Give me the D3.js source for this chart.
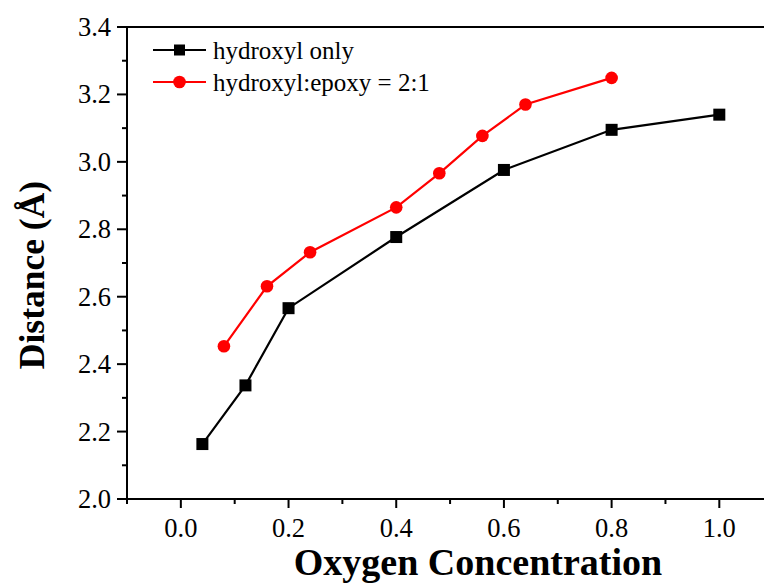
<!DOCTYPE html>
<html>
<head>
<meta charset="utf-8">
<script src="https://cdn.jsdelivr.net/npm/d3@7"></script>
<style>
  body { margin: 0; background: #fff; }
  svg { display: block; }
</style>
</head>
<body>
<svg width="764" height="586" font-family="Liberation Serif"></svg>
<script>
// data
const hydroxylX = [0.04, 0.12, 0.2, 0.4, 0.6, 0.8, 1.0]
const hydroxylY = [2.163, 2.337, 2.566, 2.777, 2.976, 3.095, 3.140]
const mixedX = [0.08, 0.16, 0.24, 0.4, 0.48, 0.56, 0.64, 0.8]
const mixedY = [2.453, 2.631, 2.732, 2.865, 2.966, 3.077, 3.170, 3.249]
const seriesNames = ['hydroxyl only', 'hydroxyl:epoxy = 2:1']
const xTicks = [0.0, 0.2, 0.4, 0.6, 0.8, 1.0]
const yTicks = [2.0, 2.2, 2.4, 2.6, 2.8, 3.0, 3.2, 3.4]
// minor ticks (odd tenths)
const xMinor = [-0.1, 0.1, 0.3, 0.5, 0.7, 0.9]
const yMinor = [2.1, 2.3, 2.5, 2.7, 2.9, 3.1, 3.3]

const svg = d3.select('svg')
const plotLeft = 127
const plotRight = 764
const plotTop = 27
const plotBottom = 499
const serif = "'Liberation Serif', 'Times New Roman', serif"

let x = d3.scaleLinear().domain([-0.1, 1.083]).range([plotLeft, plotRight])
let y = d3.scaleLinear().domain([2.0, 3.4]).range([plotBottom, plotTop])

let xAxis = svg.append('g').attr('transform', 'translate(0,' + plotBottom + ')')
xAxis.append('line').attr('x1', plotLeft).attr('x2', plotRight).attr('stroke', '#000').attr('stroke-width', 2)
xAxis.selectAll('.major').data(xTicks).enter().append('line')
  .attr('x1', d => x(d)).attr('x2', d => x(d)).attr('y1', 0).attr('y2', 9)
  .attr('stroke', '#000').attr('stroke-width', 2)
xAxis.selectAll('.minor').data(xMinor).enter().append('line')
  .attr('x1', d => x(d)).attr('x2', d => x(d)).attr('y1', 0).attr('y2', 5)
  .attr('stroke', '#000').attr('stroke-width', 2)
xAxis.selectAll('text').data(xTicks).enter().append('text')
  .attr('x', d => x(d)).attr('y', 38)
  .attr('text-anchor', 'middle').style('font-family', serif).style('font-size', '26.5px')
  .text(d => d3.format('.1f')(d))

let yAxis = svg.append('g').attr('transform', 'translate(' + plotLeft + ',0)')
yAxis.append('line').attr('y1', plotTop).attr('y2', plotBottom).attr('stroke', '#000').attr('stroke-width', 2)
yAxis.selectAll('.major').data(yTicks).enter().append('line')
  .attr('y1', d => y(d)).attr('y2', d => y(d)).attr('x1', 0).attr('x2', -10)
  .attr('stroke', '#000').attr('stroke-width', 2)
yAxis.selectAll('.minor').data(yMinor).enter().append('line')
  .attr('y1', d => y(d)).attr('y2', d => y(d)).attr('x1', 0).attr('x2', -5)
  .attr('stroke', '#000').attr('stroke-width', 2)
yAxis.selectAll('text').data(yTicks).enter().append('text')
  .attr('x', -16).attr('y', d => y(d) + 9)
  .attr('text-anchor', 'end').style('font-family', serif).style('font-size', '26.5px')
  .text(d => d3.format('.1f')(d))

// top frame line
svg.append('line').attr('x1', plotLeft - 10).attr('x2', plotRight).attr('y1', plotTop).attr('y2', plotTop)
  .attr('stroke', '#000').attr('stroke-width', 2)

// axis titles
svg.append('text').attr('x', 478).attr('y', 575).attr('text-anchor', 'middle')
  .style('font-family', serif).style('font-size', '38px').style('font-weight', 'bold').text('Oxygen Concentration')
svg.append('text').attr('transform', 'translate(44,275) rotate(-90)').attr('text-anchor', 'middle')
  .style('font-family', serif).style('font-size', '35.5px').style('font-weight', 'bold').text('Distance (Å)')

let line = d3.line().x(d => x(d[0])).y(d => y(d[1]))
let black = hydroxylX.map((v, i) => [v, hydroxylY[i]])
let red = mixedX.map((v, i) => [v, mixedY[i]])

svg.append('path').datum(black).attr('d', line).attr('fill', 'none').attr('stroke', '#000').attr('stroke-width', 2.2)
svg.append('path').datum(red).attr('d', line).attr('fill', 'none').attr('stroke', '#f00').attr('stroke-width', 2.2)

svg.selectAll('.sq').data(black).enter().append('rect')
  .attr('x', d => x(d[0]) - 6).attr('y', d => y(d[1]) - 6)
  .attr('width', 12).attr('height', 12).attr('fill', '#000')
svg.selectAll('.dot').data(red).enter().append('circle')
  .attr('cx', d => x(d[0])).attr('cy', d => y(d[1])).attr('r', 6.3).attr('fill', '#f00')

// legend
let legend = svg.append('g')
let colors = ['#000', '#f00']
seriesNames.forEach(function (name, i) {
  let ly = 50 + i * 32
  legend.append('line').attr('x1', 153).attr('x2', 206).attr('y1', ly).attr('y2', ly)
    .attr('stroke', colors[i]).attr('stroke-width', 2.2)
  if (i === 0) {
    legend.append('rect').attr('x', 174).attr('y', ly - 5.5).attr('width', 11).attr('height', 11).attr('fill', '#000')
  } else {
    legend.append('circle').attr('cx', 179.5).attr('cy', ly).attr('r', 6.3).attr('fill', '#f00')
  }
  legend.append('text').attr('x', 213).attr('y', ly + 9)
    .style('font-family', serif).style('font-size', '25px').text(name)
})
</script>
</body>
</html>
